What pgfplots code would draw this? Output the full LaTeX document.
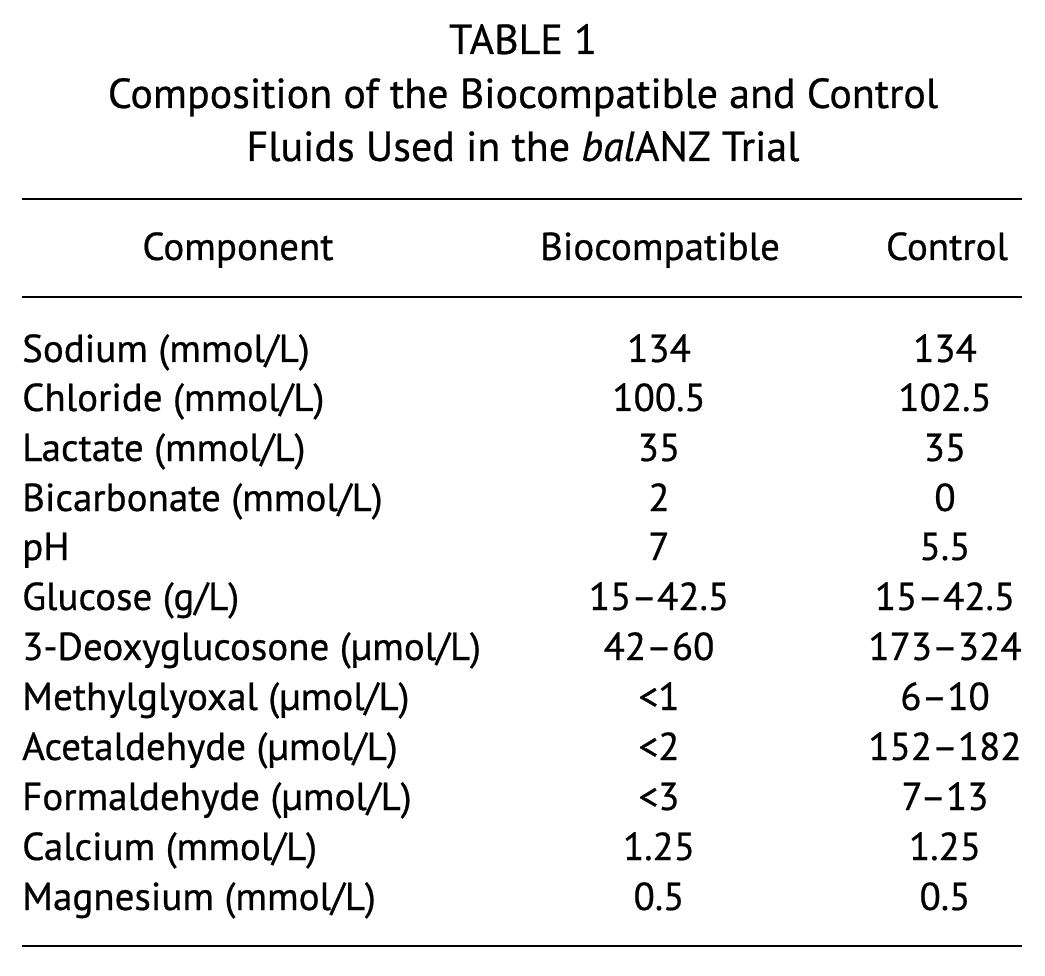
\documentclass[border=0pt]{standalone}
\usepackage{pgfplots}
\pgfplotsset{compat=1.18}
\usepackage{fontspec}
\setmainfont{PT Sans}[FakeBold=0.6]
\tikzset{cell/.style={font=\fontsize{39}{42}\selectfont, inner sep=0pt, anchor=base},
  head/.style={font=\fontsize{42}{45}\selectfont, inner sep=0pt, anchor=base}}
% one table row: baseline y, component, biocompatible, control
\newcommand{\row}[4]{%
  \node[cell, anchor=base west] at (axis cs:22,#1) {#2};
  \node[cell] at (axis cs:659,#1) {#3};
  \node[cell] at (axis cs:945,#1) {#4};}
\begin{document}
\begin{tikzpicture}
\begin{axis}[
  hide axis, scale only axis,
  width=1045pt, height=976pt,
  xmin=0, xmax=1045, ymin=0, ymax=976, y dir=reverse,
  clip=false,
]
\addplot[draw=none] coordinates {(0,0) (1045,976)};
% title
\node[head] at (axis cs:523,54) {TABLE 1};
\node[head] at (axis cs:523,108) {Composition of the Biocompatible and Control};
\node[head] at (axis cs:523,161) {Fluids Used in the \textit{bal}ANZ Trial};
% rules
\draw[line width=2pt] (axis cs:22,199) -- (axis cs:1022,199);
\draw[line width=1.5pt] (axis cs:22,297) -- (axis cs:1022,297);
\draw[line width=2pt] (axis cs:22,946) -- (axis cs:1022,946);
% header
\node[cell] at (axis cs:238,260) {Component};
\node[cell] at (axis cs:660,260) {Biocompatible};
\node[cell] at (axis cs:947,260) {Control};
% rows
\row{362}{Sodium (mmol/L)}{134}{134}
\row{411}{Chloride (mmol/L)}{100.5}{102.5}
\row{461}{Lactate (mmol/L)}{35}{35}
\row{511}{Bicarbonate (mmol/L)}{2}{0}
\row{560}{pH}{7}{5.5}
\row{610}{Glucose (g/L)}{15--42.5}{15--42.5}
\row{660}{3-Deoxyglucosone (µmol/L)}{42--60}{173--324}
\row{710}{Methylglyoxal (µmol/L)}{<1}{6--10}
\row{760}{Acetaldehyde (µmol/L)}{<2}{152--182}
\row{810}{Formaldehyde (µmol/L)}{<3}{7--13}
\row{860}{Calcium (mmol/L)}{1.25}{1.25}
\row{910}{Magnesium (mmol/L)}{0.5}{0.5}
\end{axis}
\end{tikzpicture}
\end{document}
